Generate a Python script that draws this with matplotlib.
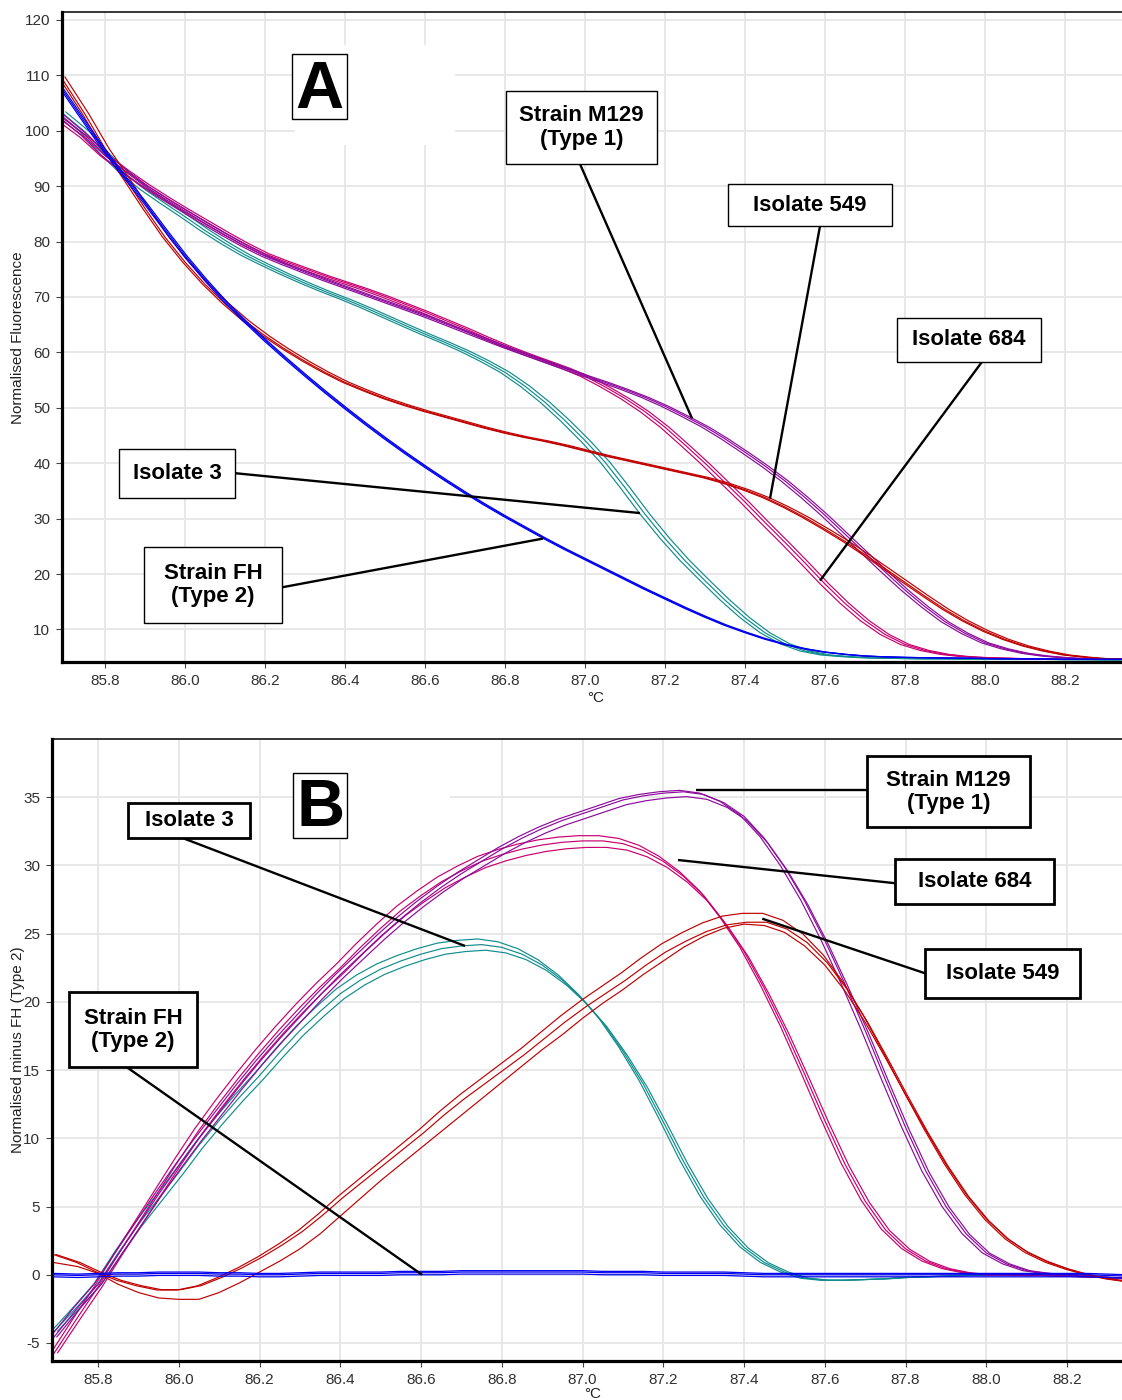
import numpy as np
import matplotlib.pyplot as plt
from matplotlib.patches import Rectangle

plt.rcParams['font.family'] = ['Liberation Sans', 'DejaVu Sans']
plt.rcParams['axes.unicode_minus'] = False

# temperature grid (deg C) the curves were read at
temps = np.round(np.concatenate([[85.69], np.arange(85.75, 88.351, 0.05)]), 2)

# ---- Panel A: normalised fluorescence ----
fh_a = [107.8, 101.5, 96.3, 91.6, 87.0, 82.2, 77.5, 73.2, 69.2, 65.6,
        62.2, 59.0, 55.9, 52.9, 50.0, 47.2, 44.5, 41.9, 39.4, 37.0,
        34.7, 32.5, 30.4, 28.4, 26.4, 24.5, 22.7, 20.9, 19.1, 17.3,
        15.6, 13.9, 12.3, 10.8, 9.5, 8.3, 7.3, 6.5, 5.9, 5.5,
        5.2, 5.05, 4.95, 4.9, 4.85, 4.8, 4.75, 4.7, 4.7, 4.65,
        4.6, 4.6, 4.6, 4.6]
iso549_a = [109.7, 103.0, 96.8, 91.5, 86.0, 80.8, 76.3, 72.3, 68.8, 65.7,
            63.0, 60.6, 58.4, 56.4, 54.6, 53.1, 51.7, 50.5, 49.4, 48.4,
            47.4, 46.4, 45.5, 44.7, 44.0, 43.2, 42.3, 41.4, 40.6, 39.8,
            39.0, 38.2, 37.4, 36.4, 35.2, 33.8, 32.1, 30.2, 28.1, 25.9,
            23.5, 21.0, 18.5, 16.0, 13.6, 11.5, 9.7, 8.2, 7.0, 6.1,
            5.4, 5.0, 4.7, 4.6]
iso3_a = [103.4, 99.8, 95.8, 92.3, 89.4, 86.9, 84.5, 82.0, 79.7, 77.6,
          75.8, 74.1, 72.5, 71.0, 69.6, 68.1, 66.5, 64.9, 63.3, 61.8,
          60.2, 58.4, 56.4, 53.9, 51.0, 47.7, 44.1, 40.2, 35.6, 30.8,
          26.4, 22.4, 18.8, 15.3, 12.1, 9.4, 7.4, 6.1, 5.4, 5.1,
          4.9, 4.8, 4.75, 4.7, 4.7, 4.65, 4.6, 4.6, 4.6, 4.6,
          4.55, 4.55, 4.5, 4.5]
iso684_a = [102.0, 98.8, 95.5, 92.8, 90.3, 88.0, 85.8, 83.7, 81.6, 79.6,
            77.8, 76.4, 75.1, 73.8, 72.6, 71.4, 70.1, 68.7, 67.3, 65.8,
            64.3, 62.7, 61.2, 59.8, 58.5, 57.2, 55.7, 53.8, 51.7, 49.3,
            46.5, 43.3, 40.0, 36.5, 33.0, 29.3, 25.7, 22.0, 18.2, 14.7,
            11.6, 9.1, 7.3, 6.2, 5.5, 5.1, 4.9, 4.8, 4.7, 4.65,
            4.6, 4.6, 4.6, 4.6]
m129_a = [102.8, 99.2, 95.6, 92.7, 90.0, 87.7, 85.5, 83.3, 81.2, 79.2,
          77.4, 75.9, 74.5, 73.1, 71.8, 70.5, 69.2, 67.9, 66.6, 65.2,
          63.8, 62.4, 61.0, 59.7, 58.4, 57.1, 55.8, 54.6, 53.3, 51.9,
          50.3, 48.5, 46.6, 44.4, 42.0, 39.5, 36.8, 33.8, 30.6, 27.2,
          23.8, 20.4, 17.1, 14.1, 11.4, 9.3, 7.6, 6.5, 5.7, 5.2,
          4.9, 4.7, 4.6, 4.6]

# ---- Panel B: normalised minus FH (Type 2) ----
fh_b = [0.0, -0.05, 0.0, 0.05, 0.05, 0.1, 0.1, 0.1, 0.05, 0.05,
        0.0, 0.0, 0.05, 0.1, 0.1, 0.1, 0.1, 0.15, 0.15, 0.15,
        0.2, 0.2, 0.2, 0.2, 0.2, 0.2, 0.2, 0.15, 0.15, 0.15,
        0.1, 0.1, 0.1, 0.1, 0.05, 0.0, 0.0, 0.0, 0.0, 0.0,
        0.0, 0.0, 0.0, 0.0, 0.0, 0.0, 0.0, 0.0, 0.0, 0.0,
        0.0, 0.0, -0.05, -0.1]
iso3_b = [-4.2, -2.3, -0.65, 1.6, 3.7, 5.6, 7.5, 9.5, 11.3, 13.0,
          14.6, 16.3, 17.9, 19.3, 20.6, 21.6, 22.4, 23.0, 23.5, 23.9,
          24.1, 24.2, 24.0, 23.5, 22.7, 21.6, 20.2, 18.5, 16.4, 14.0,
          11.2, 8.3, 5.7, 3.6, 2.0, 0.9, 0.2, -0.25, -0.4, -0.4,
          -0.35, -0.3, -0.2, -0.15, -0.1, -0.05, 0.0, 0.0, 0.0, -0.05,
          -0.1, -0.15, -0.2, -0.25]
iso684_b = [-5.8, -3.1, -0.9, 1.5, 3.8, 6.1, 8.4, 10.6, 12.6, 14.5,
            16.3, 18.0, 19.6, 21.1, 22.5, 24.0, 25.4, 26.7, 27.8, 28.8,
            29.6, 30.3, 30.8, 31.2, 31.5, 31.7, 31.8, 31.8, 31.6, 31.1,
            30.3, 29.2, 27.8, 25.9, 23.7, 21.0, 18.0, 14.7, 11.3, 8.1,
            5.4, 3.3, 1.9, 1.0, 0.45, 0.15, 0.0, 0.0, -0.05, -0.05,
            -0.1, -0.15, -0.2, -0.25]
m129_b = [-4.6, -2.4, -0.7, 1.5, 3.7, 5.9, 8.0, 10.0, 11.9, 13.8,
          15.6, 17.3, 18.9, 20.5, 22.0, 23.4, 24.8, 26.1, 27.3, 28.4,
          29.4, 30.3, 31.2, 32.0, 32.7, 33.3, 33.8, 34.3, 34.8, 35.1,
          35.3, 35.4, 35.2, 34.6, 33.6, 32.0, 29.9, 27.4, 24.5, 21.3,
          17.9, 14.3, 10.8, 7.6, 5.0, 3.0, 1.6, 0.8, 0.3, 0.1,
          0.0, -0.1, -0.2, -0.3]
iso549_b = [1.5, 0.9, 0.2, -0.4, -0.8, -1.1, -1.1, -0.8, -0.2, 0.5,
            1.3, 2.2, 3.2, 4.4, 5.7, 6.9, 8.1, 9.3, 10.5, 11.8,
            13.0, 14.1, 15.2, 16.3, 17.5, 18.7, 19.8, 20.8, 21.8, 22.9,
            23.9, 24.7, 25.4, 25.9, 26.1, 26.1, 25.6, 24.6, 23.1, 21.1,
            18.7, 16.0, 13.2, 10.5, 8.0, 5.8, 4.0, 2.6, 1.6, 0.9,
            0.4, 0.0, -0.3, -0.5]
# the third 549 replicate lags behind the other two
iso549_b_lag = [0.9, 0.6, 0.1, -0.7, -1.3, -1.7, -1.8, -1.8, -1.3, -0.6,
                0.2, 1.0, 1.9, 3.0, 4.3, 5.6, 6.9, 8.1, 9.3, 10.5,
                11.7, 12.9, 14.1, 15.3, 16.5, 17.6, 18.8, 19.9, 20.9, 22.0,
                23.0, 24.0, 24.8, 25.4, 25.7, 25.6, 25.1, 24.1, 22.7, 20.8,
                18.5, 15.9, 13.2, 10.6, 8.1, 5.9, 4.1, 2.7, 1.7, 1.0,
                0.45, 0.0, -0.3, -0.5]

for s in [fh_a, iso549_a, iso3_a, iso684_a, m129_a,
          fh_b, iso3_b, iso684_b, m129_b, iso549_b, iso549_b_lag]:
    assert len(s) == len(temps)

BLUE = '#0000f0'
RED = '#c00000'
TEAL = '#108c8c'
MAGENTA = '#c8006e'
PURPLE = '#8c0a9c'

fig = plt.figure(figsize=(11.22, 14), dpi=100)
ax_a = fig.add_axes([62 / 1122, 0.52714, 1060 / 1122, 0.46429])
ax_b = fig.add_axes([52 / 1122, 0.02786, 1070 / 1122, 0.44429])


def style_axes(ax, xlim, ylim, yticks):
    ax.set_xlim(*xlim)
    ax.set_ylim(*ylim)
    xt = np.round(np.arange(85.8, 88.21, 0.2), 1)
    ax.set_xticks(xt)
    ax.set_xticklabels([f'{v:.1f}' for v in xt])
    ax.set_yticks(yticks)
    ax.grid(True, color='#e6e6e6', lw=1.3)
    ax.set_axisbelow(True)
    ax.tick_params(direction='out', length=4, width=0.8, color='#444',
                   labelsize=11, labelcolor='#303030', pad=4.5)
    ax.spines['right'].set_visible(False)
    ax.spines['top'].set_linewidth(1.1)
    ax.spines['left'].set_linewidth(2.3)
    ax.spines['bottom'].set_linewidth(2.3)


def label_box(ax, x0, y0, x1, y1, text, lw, start=None, end=None):
    ax.add_patch(Rectangle((x0, y0), x1 - x0, y1 - y0, facecolor='white',
                           edgecolor='black', lw=lw, zorder=6))
    ax.text((x0 + x1) / 2, (y0 + y1) / 2, text, ha='center', va='center',
            fontsize=16, fontweight='bold', zorder=7, linespacing=1.15)
    if start is not None:
        ax.plot([start[0], end[0]], [start[1], end[1]], color='black',
                lw=1.7, zorder=5, solid_capstyle='butt')


# ---------------- Panel A ----------------
style_axes(ax_a, (85.6925, 88.3425), (4.12, 121.44), np.arange(10, 121, 10))

groups_a = [
    (iso3_a, TEAL, [-0.012, 0.0, 0.012]),
    (iso684_a, MAGENTA, [-0.012, 0.0, 0.01]),
    (m129_a, PURPLE, [-0.01, 0.0, 0.008]),
    (iso549_a, RED, [-0.006, 0.0, 0.01]),
    (fh_a, BLUE, [-0.004, 0.0, 0.004]),
]
for vals, color, shifts in groups_a:
    for dt in shifts:
        ax_a.plot(temps + dt, vals, color=color, lw=0.85, zorder=2)

ax_a.add_patch(Rectangle((86.275, 97.4), 0.4, 18.1, facecolor='white',
                         edgecolor='none', zorder=1))
ax_a.add_patch(Rectangle((86.2675, 102.1), 0.1375, 11.8, facecolor='white',
                         edgecolor='black', lw=1.0, zorder=6))
ax_a.text(86.335, 104.2, 'A', ha='center', va='baseline', fontsize=48,
          fontweight='heavy', zorder=7)

label_box(ax_a, 86.8025, 94.0, 87.18, 107.2, 'Strain M129\n(Type 1)', 1.0,
          (86.9875, 94.0), (87.2675, 48.1))
label_box(ax_a, 87.3575, 82.8, 87.7675, 90.4, 'Isolate 549', 1.0,
          (87.5875, 82.8), (87.4625, 33.6))
label_box(ax_a, 87.78, 58.3, 88.14, 66.2, 'Isolate 684', 1.0,
          (87.9925, 58.3), (87.5875, 18.8))
label_box(ax_a, 85.835, 33.7, 86.125, 42.6, 'Isolate 3', 1.0,
          (86.125, 38.2), (87.1375, 31.0))
label_box(ax_a, 85.8975, 11.2, 86.2425, 24.9, 'Strain FH\n(Type 2)', 1.0,
          (86.2425, 17.6), (86.895, 26.4))

fig.text(18 / 1122, 1 - 338 / 1400, 'Normalised Fluorescence', rotation=90,
         ha='center', va='center', fontsize=11, color='#202020')
fig.text(596 / 1122, 1 - 698 / 1400, '°C', ha='center', va='center',
         fontsize=11, color='#202020')

# ---------------- Panel B ----------------
style_axes(ax_b, (85.686, 88.336), (-6.32, 39.27), np.arange(-5, 36, 5))

groups_b = [
    (iso3_b, TEAL, [-0.01, 0.0, 0.01], [1.017, 1.0, 0.983]),
    (iso684_b, MAGENTA, [-0.01, 0.0, 0.01], [1.012, 1.0, 0.985]),
    (m129_b, PURPLE, [-0.01, 0.0, 0.008], [1.003, 1.0, 0.99]),
    (iso549_b, RED, [-0.004, 0.006], [1.015, 0.99]),
]
for vals, color, shifts, scales in groups_b:
    for dt, sc in zip(shifts, scales):
        ax_b.plot(temps + dt, np.array(vals) * sc, color=color, lw=0.85,
                  zorder=2)
ax_b.plot(temps, iso549_b_lag, color=RED, lw=0.85, zorder=2)
for dy in [-0.15, 0.0, 0.1]:
    ax_b.plot(temps, np.array(fh_b) + dy, color=BLUE, lw=0.9, zorder=3)

ax_b.add_patch(Rectangle((86.283, 31.85), 0.389, 7.5, facecolor='white',
                         edgecolor='none', zorder=1))
ax_b.add_patch(Rectangle((86.283, 32.0), 0.134, 4.8, facecolor='white',
                         edgecolor='black', lw=1.0, zorder=6))
ax_b.text(86.3506, 32.9, 'B', ha='center', va='baseline', fontsize=48,
          fontweight='heavy', zorder=7)

label_box(ax_b, 85.874, 32.0, 86.1765, 34.6, 'Isolate 3', 2.0,
          (86.0105, 32.0), (86.709, 24.1))
label_box(ax_b, 85.728, 15.2, 86.045, 20.7, 'Strain FH\n(Type 2)', 2.0,
          (85.872, 15.2), (86.6025, 0.0))
label_box(ax_b, 87.705, 32.8, 88.108, 38.0, 'Strain M129\n(Type 1)', 2.0,
          (87.705, 35.5), (87.281, 35.5))
label_box(ax_b, 87.774, 27.2, 88.168, 30.5, 'Isolate 684', 2.0,
          (87.774, 28.7), (87.2365, 30.4))
label_box(ax_b, 87.848, 20.3, 88.232, 23.9, 'Isolate 549', 2.0,
          (87.848, 22.1), (87.445, 26.1))

fig.text(18 / 1122, 1 - 1050 / 1400, 'Normalised minus FH (Type 2)',
         rotation=90, ha='center', va='center', fontsize=11, color='#202020')
fig.text(593 / 1122, 1 - 1394 / 1400, '°C', ha='center', va='center',
         fontsize=11, color='#202020')

fig.savefig('out.png', dpi=100)
